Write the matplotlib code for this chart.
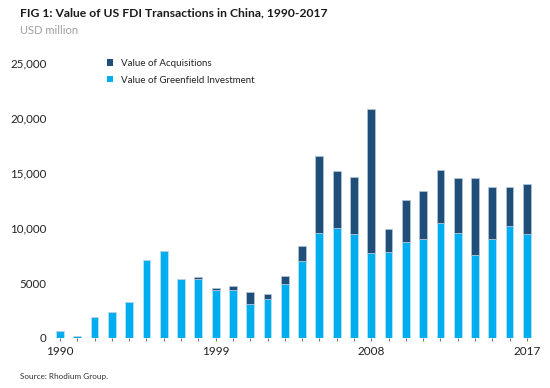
import matplotlib
matplotlib.use("Agg")
import matplotlib.pyplot as plt
from matplotlib.patches import Patch
import numpy as np

years = list(range(1990, 2018))
greenfield = [600, 150, 1880, 2340, 3270, 7120, 7910, 5360, 5360, 4360, 4340, 3060, 3520,
              4880, 7000, 9545, 10030, 9455, 7700, 7820, 8730, 9000, 10450, 9545, 7575, 9000, 10150, 9455]
totals = [600, 150, 1880, 2340, 3270, 7120, 7910, 5360, 5545, 4545, 4730, 4210, 3970,
          5610, 8390, 16545, 15150, 14670, 20820, 9880, 12575, 13390, 15245, 14575, 14575, 13755, 13755, 14030]
acquisitions = [t - g for t, g in zip(totals, greenfield)]
ytick_vals = [0, 5000, 10000, 15000, 20000, 25000]
ytick_labels = ["0", "5000", "10,000", "15,000", "20,000", "25,000"]
xtick_labels = [1990, 1999, 2008, 2017]

plt.rcParams['font.family'] = ['Lato', 'DejaVu Sans']

dark = '#1f4e79'
light = '#00aeef'

fig = plt.figure(figsize=(5.5, 3.88), dpi=100)
ax = fig.add_axes([47.9/550, 50/388, (539-47.9)/550, 275/388])

ax.bar(years, greenfield, width=0.45, color=light, edgecolor='#bfe6f7', linewidth=0.5, zorder=2)
ax.bar(years, acquisitions, bottom=greenfield, width=0.45, color=dark, edgecolor='#b7c8da', linewidth=0.5, zorder=2)

ax.set_xlim(1989.3, 2017.7)
ax.set_ylim(0, 25000)
for s in ax.spines.values():
    s.set_visible(False)
ax.set_yticks(ytick_vals)
ax.set_yticklabels(ytick_labels)
ax.tick_params(axis='y', length=0, pad=1, labelsize=8.3, labelcolor='#222222')
ax.set_xticks(years)
ax.set_xticklabels([str(y) if y in xtick_labels else "" for y in years])
ax.tick_params(axis='x', length=2, width=0.8, color='#777777', pad=4, labelsize=8.5, labelcolor='#222222')

fig.text(20/550, 1 - 13/388, "FIG 1: Value of US FDI Transactions in China, 1990-2017",
         fontsize=8.7, fontweight='bold', color='#1a1a1a', va='center', ha='left')
fig.text(20/550, 1 - 31/388, "USD million", fontsize=8, color='#a0a0a0', va='center', ha='left')
fig.text(20/550, 1 - 377/388, "Source: Rhodium Group.", fontsize=5.9, color='#333333', va='center', ha='left')

handles = [Patch(facecolor=dark, edgecolor='none'), Patch(facecolor=light, edgecolor='none')]
leg = fig.legend(handles, ["Value of Acquisitions", "Value of Greenfield Investment"],
                 loc='upper left', bbox_to_anchor=(103/550, 1 - 55/388), frameon=False,
                 fontsize=7, handlelength=0.6, handleheight=0.6, handletextpad=0.9,
                 labelspacing=0.8, borderaxespad=0)
for t in leg.get_texts():
    t.set_color('#222222')

fig.savefig("out.png", dpi=100)
